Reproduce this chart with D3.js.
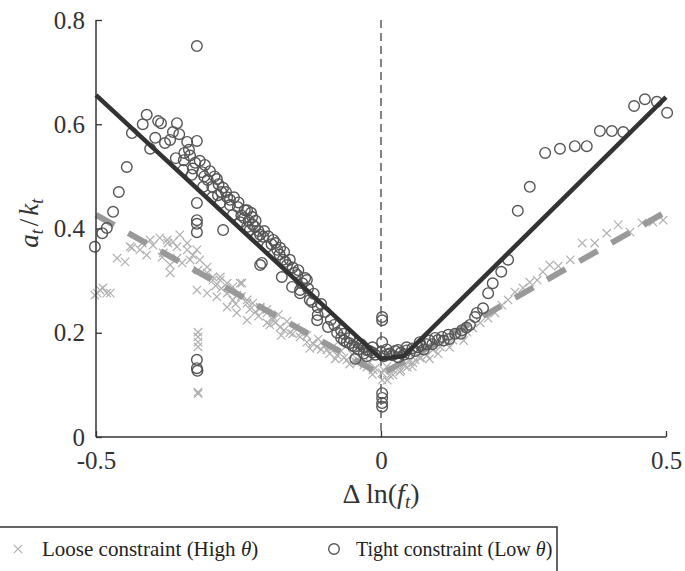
<!DOCTYPE html>
<html>
<head>
<meta charset="utf-8">
<script src="https://cdn.jsdelivr.net/npm/d3@7"></script>
<style>
  html, body { margin: 0; padding: 0; background: #fff; }
  svg { display: block; font-family: "Liberation Serif", "DejaVu Serif", serif; }
</style>
</head>
<body>
<div id="chart"></div>
<script>
// tick values
const xTicks = [-0.5, 0, 0.5];
const yTicks = [0, 0.2, 0.4, 0.6, 0.8];

// fitted lines [x, y]
const tightFit = [[-0.5, 0.656], [0, 0.150], [0.04, 0.155], [0.5, 0.652]];
const looseFit = [[-0.5, 0.426], [0, 0.120], [0.5, 0.432]];

// Loose constraint (High theta) points [x, y]
const loosePoints = [
  [-0.502, 0.272], [-0.498, 0.276], [-0.493, 0.282], [-0.488, 0.286], [-0.481, 0.276], [-0.475, 0.276],
  [-0.463, 0.343], [-0.449, 0.336], [-0.440, 0.365], [-0.437, 0.363], [-0.423, 0.359], [-0.419, 0.372],
  [-0.411, 0.349], [-0.405, 0.378], [-0.400, 0.368], [-0.388, 0.382], [-0.384, 0.345], [-0.382, 0.353],
  [-0.375, 0.378], [-0.374, 0.372], [-0.370, 0.330], [-0.370, 0.315], [-0.365, 0.374], [-0.358, 0.365],
  [-0.358, 0.343], [-0.353, 0.388], [-0.349, 0.334], [-0.340, 0.372], [-0.340, 0.359], [-0.335, 0.340],
  [-0.330, 0.349], [-0.323, 0.359], [-0.321, 0.320], [-0.318, 0.340], [-0.305, 0.326], [-0.305, 0.315],
  [-0.295, 0.307], [-0.295, 0.301], [-0.282, 0.307], [-0.282, 0.301], [-0.270, 0.295], [-0.270, 0.276],
  [-0.260, 0.288], [-0.260, 0.263], [-0.253, 0.272], [-0.253, 0.238], [-0.244, 0.295], [-0.235, 0.263],
  [-0.235, 0.224], [-0.225, 0.257], [-0.212, 0.247], [-0.200, 0.238], [-0.189, 0.230], [-0.323, 0.282],
  [-0.305, 0.276], [-0.288, 0.269], [-0.270, 0.249], [-0.247, 0.295], [-0.235, 0.257], [-0.212, 0.249],
  [-0.321, 0.201], [-0.321, 0.192], [-0.321, 0.182], [-0.321, 0.173], [-0.321, 0.086], [-0.321, 0.083],
  [-0.200, 0.219], [-0.177, 0.211], [-0.160, 0.200], [-0.142, 0.192], [-0.130, 0.182], [-0.112, 0.173],
  [-0.095, 0.167], [-0.077, 0.157], [-0.060, 0.148], [-0.042, 0.142], [-0.025, 0.134], [-0.014, 0.129],
  [0.002, 0.123], [0.002, 0.109], [-0.200, 0.245], [-0.190, 0.225], [-0.180, 0.235], [-0.170, 0.205],
  [-0.165, 0.222], [-0.150, 0.210], [-0.140, 0.200], [-0.130, 0.195], [-0.120, 0.180], [-0.110, 0.188],
  [-0.100, 0.175], [-0.090, 0.160], [-0.085, 0.172], [-0.070, 0.165], [-0.065, 0.152], [-0.050, 0.158],
  [-0.045, 0.145], [-0.035, 0.150], [-0.030, 0.138], [-0.020, 0.143], [-0.010, 0.132], [0.005, 0.128],
  [0.010, 0.135], [0.020, 0.130], [0.030, 0.140], [0.040, 0.138], [0.050, 0.145], [0.060, 0.148],
  [0.070, 0.152], [0.011, 0.109], [0.021, 0.119], [0.033, 0.125], [0.046, 0.134], [0.056, 0.142],
  [0.068, 0.152], [0.081, 0.157], [0.091, 0.167], [0.104, 0.173], [0.116, 0.180], [0.126, 0.186],
  [0.139, 0.196], [0.151, 0.201], [0.161, 0.209], [0.174, 0.219], [0.188, 0.228], [0.200, 0.238],
  [0.212, 0.253], [0.223, 0.263], [0.235, 0.278], [0.249, 0.286], [0.261, 0.297], [0.274, 0.301],
  [0.284, 0.317], [0.296, 0.330], [0.311, 0.328], [0.332, 0.340], [0.353, 0.372], [0.375, 0.372],
  [0.396, 0.391], [0.416, 0.407], [0.437, 0.393], [0.458, 0.411], [0.477, 0.412], [0.495, 0.416],
  [-0.290, 0.290], [-0.280, 0.285], [-0.265, 0.280], [-0.255, 0.255], [-0.245, 0.270], [-0.230, 0.245],
  [-0.220, 0.240], [-0.215, 0.232], [-0.195, 0.215], [-0.185, 0.220], [-0.175, 0.195], [-0.155, 0.198],
  [-0.125, 0.170], [-0.105, 0.168], [-0.080, 0.150], [-0.055, 0.140], [-0.015, 0.120], [0.015, 0.118],
  [0.035, 0.128], [0.055, 0.135], [0.085, 0.150], [0.100, 0.160], [0.120, 0.172], [0.145, 0.185]
];

// Tight constraint (Low theta) points [x, y]
const tightPoints = [
  [-0.502, 0.365], [-0.489, 0.391], [-0.481, 0.401], [-0.470, 0.432], [-0.460, 0.470], [-0.446, 0.518],
  [-0.437, 0.583], [-0.418, 0.600], [-0.411, 0.618], [-0.405, 0.553], [-0.396, 0.574], [-0.391, 0.606],
  [-0.386, 0.602], [-0.379, 0.564], [-0.370, 0.570], [-0.365, 0.585], [-0.358, 0.602], [-0.354, 0.581],
  [-0.340, 0.566], [-0.337, 0.551], [-0.323, 0.568], [-0.360, 0.535], [-0.346, 0.531], [-0.326, 0.526],
  [-0.309, 0.522], [-0.347, 0.512], [-0.332, 0.503], [-0.314, 0.508], [-0.304, 0.493], [-0.288, 0.495],
  [-0.312, 0.480], [-0.296, 0.480], [-0.277, 0.478], [-0.286, 0.464], [-0.270, 0.460], [-0.296, 0.460],
  [-0.282, 0.449], [-0.265, 0.445], [-0.251, 0.441], [-0.235, 0.435], [-0.226, 0.422], [-0.260, 0.426],
  [-0.247, 0.412], [-0.239, 0.435], [-0.230, 0.397], [-0.277, 0.397], [-0.225, 0.407], [-0.221, 0.403],
  [-0.235, 0.403], [-0.212, 0.388], [-0.207, 0.384], [-0.218, 0.384], [-0.189, 0.378], [-0.200, 0.365],
  [-0.182, 0.359], [-0.177, 0.363], [-0.172, 0.340], [-0.168, 0.336], [-0.209, 0.334], [-0.212, 0.330],
  [-0.165, 0.330], [-0.151, 0.315], [-0.147, 0.311], [-0.174, 0.307], [-0.133, 0.305], [-0.130, 0.301],
  [-0.156, 0.288], [-0.142, 0.282], [-0.142, 0.276], [-0.125, 0.263], [-0.121, 0.259], [-0.111, 0.249],
  [-0.111, 0.234], [-0.112, 0.224], [-0.093, 0.211], [-0.077, 0.200], [-0.060, 0.182], [-0.046, 0.173],
  [-0.025, 0.167], [-0.323, 0.449], [-0.323, 0.416], [-0.323, 0.409], [-0.323, 0.393], [-0.323, 0.148],
  [-0.323, 0.132], [-0.322, 0.127], [-0.323, 0.750], [0.002, 0.230], [0.002, 0.224], [0.002, 0.182],
  [0.002, 0.084], [0.002, 0.075], [0.002, 0.065], [0.002, 0.058], [-0.050, 0.175], [-0.040, 0.168],
  [-0.035, 0.178], [-0.030, 0.160], [-0.020, 0.165], [-0.015, 0.172], [-0.010, 0.158], [0.000, 0.163],
  [0.005, 0.155], [0.010, 0.168], [0.015, 0.160], [0.020, 0.157], [0.025, 0.165], [0.030, 0.153],
  [0.035, 0.162], [0.040, 0.158], [0.045, 0.166], [0.050, 0.160], [0.055, 0.170], [0.060, 0.165],
  [0.065, 0.172], [-0.070, 0.190], [-0.065, 0.185], [-0.055, 0.180], [-0.045, 0.150], [-0.025, 0.155],
  [0.070, 0.175], [0.075, 0.168], [0.068, 0.182], [0.085, 0.185], [0.090, 0.178], [0.100, 0.186],
  [0.107, 0.192], [0.118, 0.196], [0.120, 0.188], [0.130, 0.198], [0.142, 0.205], [0.156, 0.215],
  [0.165, 0.230], [0.168, 0.238], [0.179, 0.247], [0.188, 0.276], [0.196, 0.295], [0.211, 0.317],
  [0.223, 0.340], [0.240, 0.434], [0.261, 0.480], [0.288, 0.545], [0.314, 0.553], [0.340, 0.558],
  [0.361, 0.558], [0.384, 0.587], [0.405, 0.587], [0.425, 0.585], [0.444, 0.635], [0.463, 0.648],
  [0.484, 0.643], [0.502, 0.622],
  [-0.345, 0.545], [-0.335, 0.540], [-0.330, 0.515], [-0.318, 0.530], [-0.310, 0.500], [-0.300, 0.510],
  [-0.292, 0.500], [-0.285, 0.485], [-0.280, 0.470], [-0.272, 0.470], [-0.265, 0.455], [-0.258, 0.460],
  [-0.250, 0.450], [-0.245, 0.425], [-0.240, 0.420], [-0.232, 0.415], [-0.228, 0.430], [-0.220, 0.415],
  [-0.215, 0.395], [-0.205, 0.395], [-0.198, 0.385], [-0.192, 0.370], [-0.185, 0.372], [-0.178, 0.350],
  [-0.170, 0.355], [-0.160, 0.340], [-0.155, 0.325], [-0.145, 0.320], [-0.138, 0.295], [-0.128, 0.285],
  [-0.118, 0.275], [-0.105, 0.255], [-0.098, 0.240], [-0.088, 0.225], [-0.082, 0.215], [-0.070, 0.205],
  [-0.065, 0.198], [-0.055, 0.190], [-0.040, 0.180], [-0.030, 0.172], [-0.015, 0.162], [0.010, 0.158],
  [0.030, 0.167], [0.045, 0.172], [0.080, 0.178], [0.095, 0.190], [0.110, 0.185], [0.140, 0.198],
  [0.150, 0.210]
];

const width = 685;
const height = 571;
const margin = { left: 96, right: 19, top: 20, bottom: 134 };

const svg = d3.select("#chart")
  .append("svg")
  .attr("width", width)
  .attr("height", height)
  .attr("viewBox", `0 0 ${width} ${height}`);

const x = d3.scaleLinear().domain([-0.5, 0.5]).range([margin.left, width - margin.right]);
const y = d3.scaleLinear().domain([0, 0.8]).range([height - margin.bottom, margin.top]);

const axisColor = "#333";
const serif = "'Liberation Serif', 'DejaVu Serif', serif";

// vertical dashed line at zero
svg.append("line")
  .attr("x1", x(0)).attr("x2", x(0))
  .attr("y1", y(0.8)).attr("y2", y(0))
  .attr("stroke", "#333")
  .attr("stroke-width", 1.2)
  .attr("stroke-dasharray", "8,5");

// loose crosses
const cs = 4.2;
svg.append("g")
  .selectAll("path")
  .data(loosePoints)
  .enter()
  .append("path")
  .attr("transform", d => `translate(${x(d[0])},${y(d[1])})`)
  .attr("d", `M${-cs},${-cs}L${cs},${cs}M${-cs},${cs}L${cs},${-cs}`)
  .attr("stroke", "#b0b0b0")
  .attr("stroke-width", 1.2)
  .attr("fill", "none");

// loose fit (dashed)
const line = d3.line().x(d => x(d[0])).y(d => y(d[1]));
svg.append("path")
  .datum(looseFit)
  .attr("d", line)
  .attr("fill", "none")
  .attr("stroke", "#999")
  .attr("stroke-width", 6)
  .attr("stroke-dasharray", "21,16");

// tight circles
svg.append("g")
  .selectAll("circle")
  .data(tightPoints)
  .enter()
  .append("circle")
  .attr("cx", d => x(d[0]))
  .attr("cy", d => y(d[1]))
  .attr("r", 5.3)
  .attr("fill", "none")
  .attr("stroke", "#555")
  .attr("stroke-width", 1.4);

// tight fit (solid)
svg.append("path")
  .datum(tightFit)
  .attr("d", line)
  .attr("fill", "none")
  .attr("stroke", "#333")
  .attr("stroke-width", 4.5)
  .attr("stroke-linejoin", "round");

// axes
const fmt = d => d === 0 ? "0" : d3.format(".1f")(d).replace("\u2212", "-");
const xAxis = d3.axisBottom(x).tickValues(xTicks).tickSize(-6).tickPadding(14).tickFormat(fmt);
const yAxis = d3.axisLeft(y).tickValues(yTicks).tickSize(-6).tickPadding(11).tickFormat(fmt);

const gx = svg.append("g")
  .attr("transform", `translate(0,${y(0)})`)
  .call(xAxis);
const gy = svg.append("g")
  .attr("transform", `translate(${x(-0.5)},0)`)
  .call(yAxis);

[gx, gy].forEach(g => {
  g.attr("font-family", serif).attr("font-size", 25);
  g.select(".domain").attr("stroke", axisColor).attr("stroke-width", 1.5)
    .attr("d", g === gx ? `M${x(-0.5)},0H${x(0.5)}` : `M0,${y(0.8)}V${y(0)}`);
  g.selectAll(".tick line").attr("stroke", axisColor).attr("stroke-width", 1.3);
  g.selectAll(".tick text").attr("fill", "#333");
});
gx.selectAll(".tick text").attr("dy", "0.71em");

// axis labels
const ylab = svg.append("text")
  .attr("transform", `translate(38,${y(0.41)}) rotate(-90)`)
  .attr("text-anchor", "middle")
  .attr("fill", "#333")
  .style("font-size", "27px")
  .style("font-style", "italic");
ylab.append("tspan").text("a");
ylab.append("tspan").text("t").attr("dy", 5).style("font-size", "18px");
ylab.append("tspan").text("/").attr("dy", -5).attr("dx", 3).style("font-style", "normal");
ylab.append("tspan").text("k").attr("dx", 3);
ylab.append("tspan").text("t").attr("dy", 5).style("font-size", "18px");

const xlab = svg.append("text")
  .attr("x", x(0))
  .attr("y", 503)
  .attr("text-anchor", "middle")
  .attr("fill", "#333")
  .style("font-size", "28px");
xlab.append("tspan").text("Δ ln(");
xlab.append("tspan").text("f").style("font-style", "italic");
xlab.append("tspan").text("t").attr("dy", 5).style("font-size", "19px").style("font-style", "italic");
xlab.append("tspan").text(")").attr("dy", -5);

// legend
const legend = svg.append("g");
legend.append("rect")
  .attr("x", -1).attr("y", 527)
  .attr("width", 558).attr("height", 60)
  .attr("fill", "#fff")
  .attr("stroke", "#333")
  .attr("stroke-width", 1.5);

legend.append("path")
  .attr("transform", "translate(18,549)")
  .attr("d", `M${-cs},${-cs}L${cs},${cs}M${-cs},${cs}L${cs},${-cs}`)
  .attr("stroke", "#b0b0b0")
  .attr("stroke-width", 1.2);

const lt1 = legend.append("text")
  .attr("x", 42).attr("y", 556)
  .attr("fill", "#222")
  .style("font-size", "21px");
lt1.append("tspan").text("Loose constraint (High ");
lt1.append("tspan").text("θ").style("font-style", "italic");
lt1.append("tspan").text(")");

legend.append("circle")
  .attr("cx", 334).attr("cy", 549).attr("r", 5.3)
  .attr("fill", "none")
  .attr("stroke", "#555")
  .attr("stroke-width", 1.4);

const lt2 = legend.append("text")
  .attr("x", 356).attr("y", 556)
  .attr("fill", "#222")
  .style("font-size", "20px");
lt2.append("tspan").text("Tight constraint (Low ");
lt2.append("tspan").text("θ").style("font-style", "italic");
lt2.append("tspan").text(")");
</script>
</body>
</html>
